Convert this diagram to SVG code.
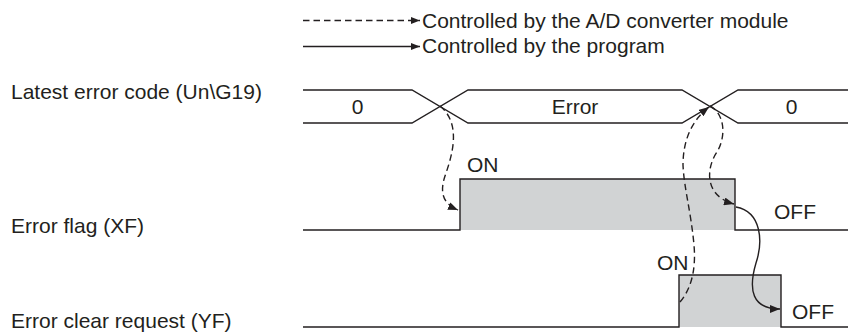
<svg xmlns="http://www.w3.org/2000/svg" width="849" height="332" viewBox="0 0 849 332">
<style>
  text{font-family:"Liberation Sans",Arial,sans-serif;font-size:21px;fill:#231f20}
  .ln{fill:none;stroke:#231f20;stroke-width:1.4}
  .pulse{fill:#d1d3d4;stroke:none}
  .dash{fill:none;stroke:#231f20;stroke-width:1.4;stroke-dasharray:6.5 4}
  .solid{fill:none;stroke:#231f20;stroke-width:1.4}
  .mid{text-anchor:middle}
</style>
<defs>
  <marker id="ah" viewBox="0 0 10 8" refX="10" refY="4" markerWidth="10" markerHeight="8" markerUnits="userSpaceOnUse" orient="auto">
    <path d="M0,0 L10,4 L0,8 Z" fill="#231f20"/>
  </marker>
  <marker id="ahs" viewBox="0 0 9 7" refX="9" refY="3.5" markerWidth="9" markerHeight="7" markerUnits="userSpaceOnUse" orient="auto">
    <path d="M0,0 L9,3.5 L0,7 Z" fill="#231f20"/>
  </marker>
</defs>

<g id="legend">
  <line class="dash" x1="303" y1="20.5" x2="420" y2="20.5" marker-end="url(#ahs)"/>
  <text x="422" y="28">Controlled by the A/D converter module</text>
  <line class="solid" x1="303" y1="46.5" x2="420" y2="46.5" marker-end="url(#ahs)"/>
  <text x="422" y="53">Controlled by the program</text>
</g>

<g id="labels">
  <text x="11" y="99">Latest error code (Un\G19)</text>
  <text x="11" y="233">Error flag (XF)</text>
  <text x="11" y="328">Error clear request (YF)</text>
</g>

<g id="sig-error-code">
  <path class="ln" d="M303,90 H412 L468,123 H682 L738,90 H848"/>
  <path class="ln" d="M303,123 H412 L468,90 H682 L738,123 H848"/>
  <text class="mid" x="357.5" y="113.5">0</text>
  <text class="mid" x="575" y="113.5">Error</text>
  <text class="mid" x="791.5" y="113.5">0</text>
</g>

<g id="sig-error-flag">
  <rect class="pulse" x="460" y="179" width="275" height="51"/>
  <path class="ln" d="M303,230 H460 V179 H735 V230 H848"/>
  <text x="467" y="172">ON</text>
  <text x="774" y="219">OFF</text>
</g>

<g id="sig-error-clear">
  <rect class="pulse" x="679" y="275" width="102" height="52"/>
  <path class="ln" d="M303,327 H679 V275 H781 V327 H848"/>
  <text x="657" y="270">ON</text>
  <text x="792" y="319">OFF</text>
</g>

<g id="connectors">
  <path class="dash" d="M440,106 C462,124 452,156 445,176 C439,194 444,204 458,210" marker-end="url(#ah)"/>
  <path class="dash" d="M680,302 C692,288 696,268 694,245 C691,212 684,188 683,165 C683,140 692,120 709,107" marker-end="url(#ah)"/>
  <path class="dash" d="M710,106 C724,113 727,135 717,152 C706,168 704,196 734,204" marker-end="url(#ah)"/>
  <path class="solid" d="M736,207 C762,212 763,242 756,263 C748,290 752,309 780,309" marker-end="url(#ah)"/>
</g>
</svg>
